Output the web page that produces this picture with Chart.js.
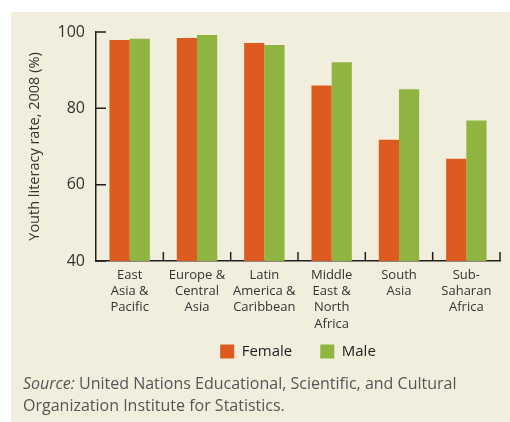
<!DOCTYPE html>
<html>
<head>
<meta charset="utf-8">
<script src="https://cdn.jsdelivr.net/npm/chart.js@4"></script>
<style>
  html, body { margin: 0; padding: 0; background: #fff; }
  #panel { position: absolute; left: 11px; top: 12px; width: 499px; height: 410px; background: #f2eedd; }
  #wrap { position: absolute; left: 0; top: 0; width: 510px; height: 422px; }
  #source { position: absolute; left: 23px; top: 372px; font-family: "Open Sans", sans-serif; font-size: 16px; line-height: 22px; color: #555; }
</style>
</head>
<body>
<div id="panel"></div>
<div id="wrap"><canvas id="chart" width="510" height="422"></canvas></div>
<div id="source"><i>Source:</i> United Nations Educational, Scientific, and Cultural<br>Organization Institute for Statistics.</div>
<script>
var regions = [
    ['East', 'Asia &', 'Pacific'],
    ['Europe &', 'Central', 'Asia'],
    ['Latin', 'America &', 'Caribbean'],
    ['Middle', 'East &', 'North', 'Africa'],
    ['South', 'Asia'],
    ['Sub-', 'Saharan', 'Africa']
];
var female = [97.9, 98.4, 97.1, 86.0, 71.8, 66.8];
var male = [98.2, 99.2, 96.6, 92.1, 85.0, 76.8];
var yTicks = [40, 60, 80, 100];

var fontName = '"Open Sans", sans-serif';
var axisColor = '#231f20';

// small ticks pointing into the plot, like the printed figure
var innerTicks = {
    id: 'innerTicks',
    afterLayout: function(chart) {
        // centre the legend under the plot and pull it up closer to the labels
        var lg = chart.legend;
        var dx = (chart.chartArea.left + chart.chartArea.right) / 2 - (lg.left + lg.right) / 2;
        var dy = (chart.chartArea.bottom + 55) - lg.top;
        lg.left += dx;
        lg.right += dx;
        lg.top += dy;
        lg.bottom += dy;
    },
    afterDraw: function(chart) {
        var ctx = chart.ctx;
        var x = chart.scales.x, y = chart.scales.y;
        var area = chart.chartArea;
        ctx.save();
        ctx.strokeStyle = axisColor;
        ctx.lineWidth = 1.5;
        ctx.beginPath();
        yTicks.forEach(function(v) {
            var py = y.getPixelForValue(v);
            ctx.moveTo(area.left, py);
            ctx.lineTo(area.left + 10, py);
        });
        var step = x.getPixelForValue(1) - x.getPixelForValue(0);
        for (var i = 1; i <= regions.length; i++) {
            var px = x.getPixelForValue(0) - step / 2 + i * step;
            ctx.moveTo(px, area.bottom);
            ctx.lineTo(px, area.bottom - 9);
        }
        ctx.stroke();
        ctx.restore();
    }
};

new Chart(document.getElementById('chart'), {
    type: 'bar',
    data: {
        labels: regions,
        datasets: [
            { label: 'Female', data: female, backgroundColor: '#dd5b1f' },
            { label: 'Male', data: male, backgroundColor: '#8fb540' }
        ]
    },
    options: {
        responsive: false,
        animation: false,
        layout: { padding: { top: 32, right: 10, bottom: 34, left: 0 } },
        datasets: { bar: { categoryPercentage: 0.6, barPercentage: 1.0 } },
        plugins: {
            legend: {
                position: 'bottom',
                labels: {
                    boxWidth: 14, boxHeight: 14, padding: 28,
                    color: '#222',
                    font: { family: fontName, size: 15 }
                }
            },
            tooltip: { enabled: false }
        },
        scales: {
            x: {
                afterFit: function(s) { s.height = 74; },
                grid: { display: false, drawTicks: false },
                border: { color: axisColor, width: 1.5 },
                ticks: {
                    color: '#333', padding: 6, maxRotation: 0, autoSkip: false,
                    font: { family: fontName, size: 13, lineHeight: 1.25 }
                }
            },
            y: {
                min: 40, max: 100,
                afterFit: function(s) { s.width = 96; },
                afterBuildTicks: function(s) { s.ticks = yTicks.map(function(v) { return { value: v }; }); },
                grid: { display: false, drawTicks: false },
                border: { color: axisColor, width: 1.5 },
                title: {
                    display: true,
                    text: 'Youth literacy rate, 2008 (%)',
                    color: '#333',
                    padding: { top: 26, bottom: 0 },
                    font: { family: fontName, size: 14.5 }
                },
                ticks: {
                    color: '#333', padding: 11,
                    font: { family: fontName, size: 16 }
                }
            }
        }
    },
    plugins: [innerTicks]
});
</script>
</body>
</html>
